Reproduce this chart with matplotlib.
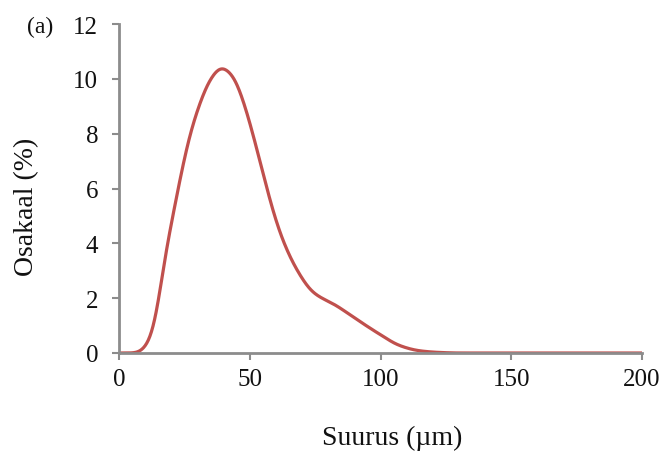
import matplotlib.pyplot as plt
import numpy as np

# Osakeste suurusjaotus (loetud jooniselt)
suurus = [0, 3, 5.4, 8, 10, 11.8, 13.7, 15.6, 17.5, 20.7, 23.9, 27.1, 30.9, 34.7,
          39.2, 43.6, 47.5, 51.3, 55.1, 58.9, 62.7, 67.8, 74.2, 83.1, 90.7, 99.6,
          107.3, 114.9, 122.5, 130, 150, 175, 200]
osakaal = [0, 0, 0, 0.05, 0.22, 0.5, 1.12, 2.2, 3.45, 5.05, 6.6, 7.95, 9.1, 9.95,
           10.42, 10.1, 9.2, 7.95, 6.55, 5.18, 4.1, 3.07, 2.21, 1.73, 1.24, 0.69,
           0.27, 0.08, 0.02, 0, 0, 0, 0]

x_ticks = [0, 50, 100, 150, 200]
y_ticks = [0, 2, 4, 6, 8, 10, 12]


def pchip(x, y, xn):
    # monotoonne kuupinterpolatsioon (Fritsch-Carlson)
    x = np.asarray(x, float)
    y = np.asarray(y, float)
    h = np.diff(x)
    d = np.diff(y) / h
    m = np.zeros_like(y)
    for i in range(1, len(x) - 1):
        if d[i - 1] * d[i] > 0:
            w1 = 2 * h[i] + h[i - 1]
            w2 = h[i] + 2 * h[i - 1]
            m[i] = (w1 + w2) / (w1 / d[i - 1] + w2 / d[i])
    m[0], m[-1] = d[0], d[-1]
    idx = np.clip(np.searchsorted(x, xn) - 1, 0, len(h) - 1)
    t = (xn - x[idx]) / h[idx]
    hh = h[idx]
    return ((2 * t**3 - 3 * t**2 + 1) * y[idx] + (t**3 - 2 * t**2 + t) * hh * m[idx]
            + (-2 * t**3 + 3 * t**2) * y[idx + 1] + (t**3 - t**2) * hh * m[idx + 1])


plt.rcParams['font.family'] = ['Liberation Serif', 'DejaVu Serif']

fig = plt.figure(figsize=(6.64, 4.56), dpi=100)
ax = fig.add_axes([119 / 664, 1 - 354 / 456, (642 - 119) / 664, (354 - 25) / 456])

xs = np.linspace(0, 200, 1001)
ys = pchip(suurus, osakaal, xs)
# silumine Gaussi tuumaga
g = np.arange(-20, 21)
k = np.exp(-0.5 * (g / 8.0) ** 2)
k /= k.sum()
ys = np.convolve(np.pad(ys, 20, mode='edge'), k, mode='valid')
ax.plot(xs, ys, color='#c0504d', lw=2.3, solid_capstyle='round')

ax.set_xlim(0, 200)
ax.set_ylim(0, 12)
ax.set_xticks(x_ticks)
ax.set_yticks(y_ticks)

gray = '#8c8c8c'
for s in ['top', 'right']:
    ax.spines[s].set_visible(False)
for s in ['left', 'bottom']:
    ax.spines[s].set_color(gray)
    ax.spines[s].set_linewidth(2)
ax.tick_params(axis='both', direction='out', length=5, width=1.5, color=gray,
               labelsize=18, labelcolor='#111111')
ax.tick_params(axis='x', pad=6)
ax.tick_params(axis='y', pad=10)

fig.text(392 / 664, 1 - 438 / 456, 'Suurus (µm)', ha='center', va='center',
         fontsize=20, color='#111111')
fig.text(27 / 664, 1 - 207 / 456, 'Osakaal (%)', ha='center', va='center',
         rotation=90, fontsize=20, color='#111111')
fig.text(40 / 664, 1 - 27 / 456, '(a)', ha='center', va='center',
         fontsize=17, color='#111111')

fig.savefig('out.png', dpi=100)
